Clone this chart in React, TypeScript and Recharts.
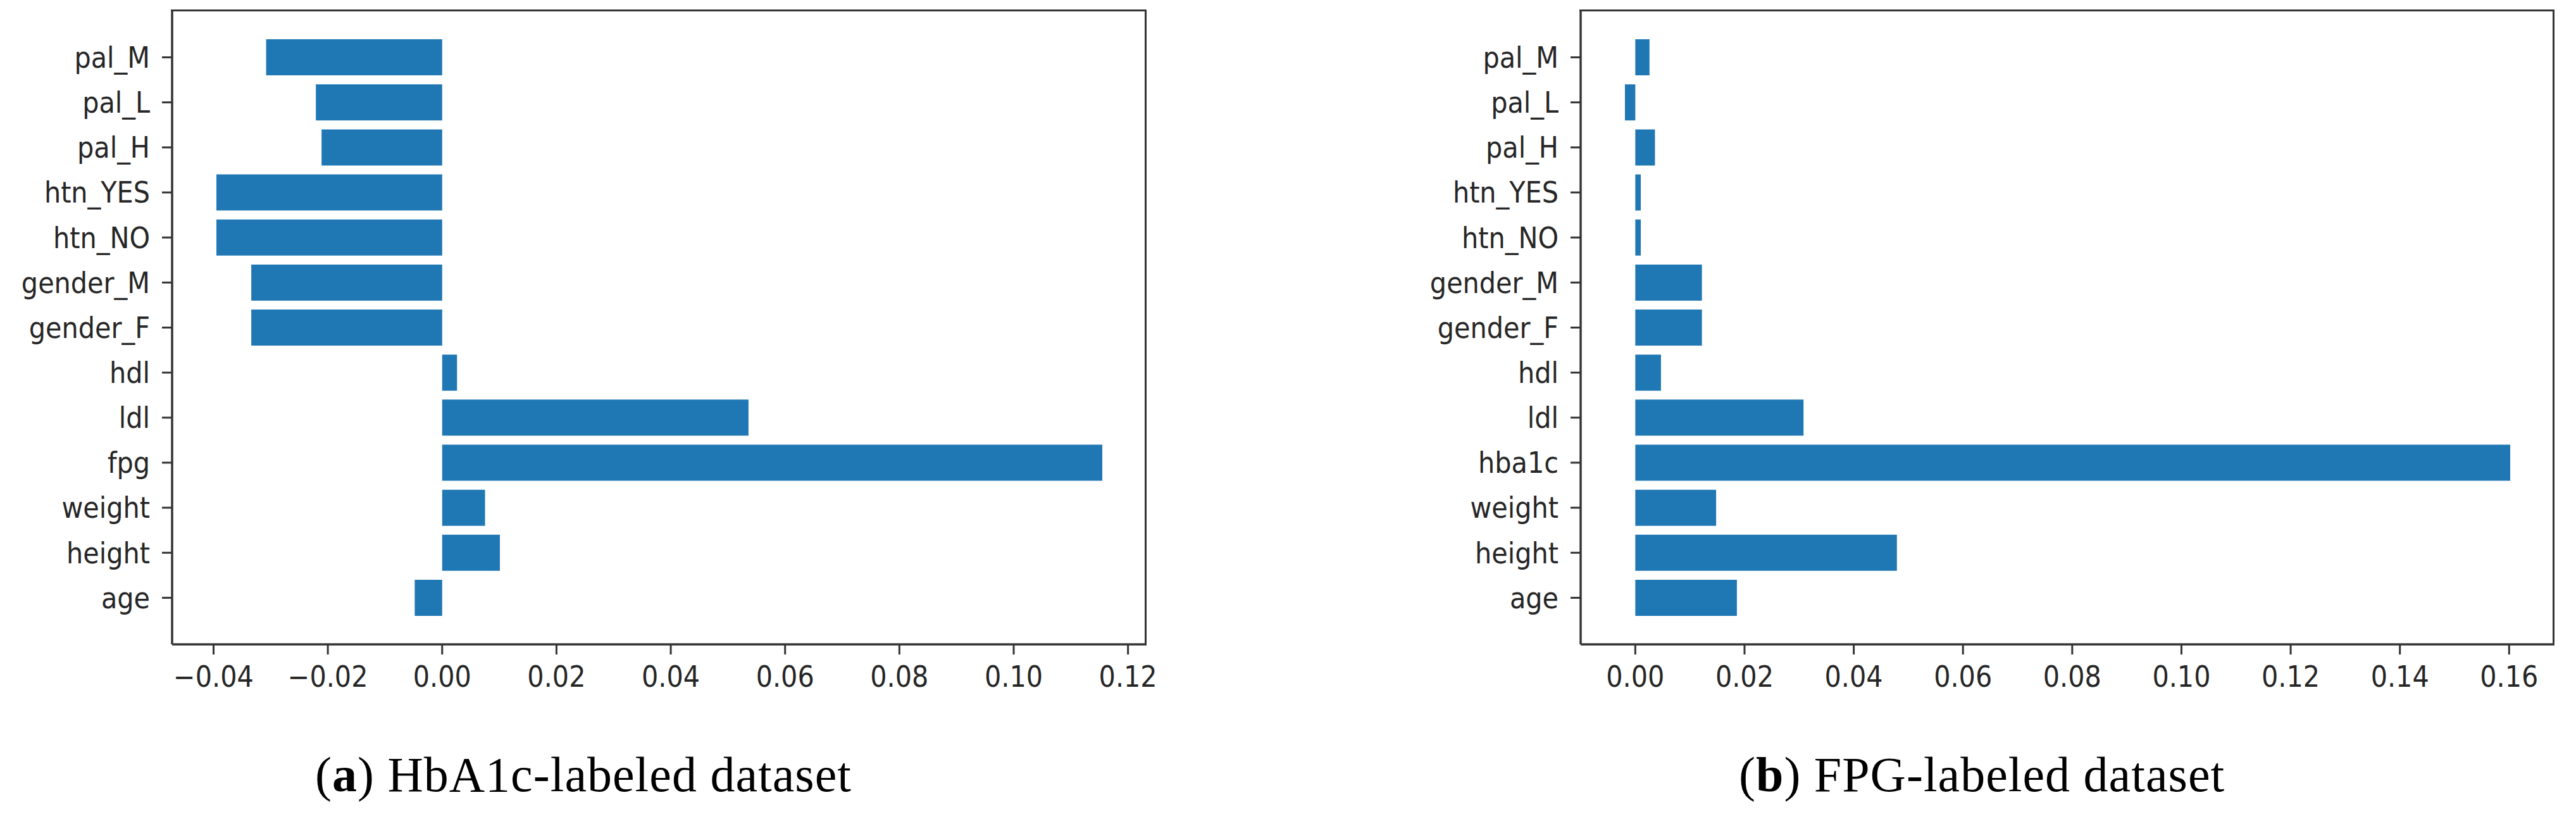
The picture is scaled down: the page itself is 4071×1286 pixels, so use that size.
import { BarChart, Bar, XAxis, YAxis } from 'recharts';

const categoriesA = ['pal_M', 'pal_L', 'pal_H', 'htn_YES', 'htn_NO', 'gender_M', 'gender_F', 'hdl', 'ldl', 'fpg', 'weight', 'height', 'age'];
const valuesA = [-0.0308, -0.0221, -0.0211, -0.0395, -0.0395, -0.0334, -0.0334, 0.0026, 0.0536, 0.1155, 0.0075, 0.0101, -0.0048];
const ticksA = [-0.04, -0.02, 0, 0.02, 0.04, 0.06, 0.08, 0.1, 0.12];

const categoriesB = ['pal_M', 'pal_L', 'pal_H', 'htn_YES', 'htn_NO', 'gender_M', 'gender_F', 'hdl', 'ldl', 'hba1c', 'weight', 'height', 'age'];
const valuesB = [0.0026, -0.0019, 0.0036, 0.001, 0.001, 0.0122, 0.0122, 0.0047, 0.0308, 0.1602, 0.0148, 0.0479, 0.0186];
const ticksB = [0, 0.02, 0.04, 0.06, 0.08, 0.1, 0.12, 0.14, 0.16];

const BAR = '#1f77b4';
const AXIS = '#333333';
const LABEL_FONT = "'DejaVu Sans Condensed', 'DejaVu Sans', sans-serif";
const CHART_H = 1100;
const MARGIN_TOP = 17;
const MARGIN_BOTTOM = 12;
const XAXIS_H = 70;
const SPINE = 3.5;

// matplotlib-style 5% margins around the data (bars start at 0)
function paddedDomain(values: number[]): [number, number] {
  const lo = Math.min(0, ...values);
  const hi = Math.max(0, ...values);
  const m = (hi - lo) * 0.05;
  return [lo - m, hi + m];
}

const fmt = (v: number) => (v < 0 ? '\u2212' + Math.abs(v).toFixed(2) : v.toFixed(2));

interface PanelProps {
  categories: string[];
  values: number[];
  ticks: number[];
  width: number;
  yAxisWidth: number;
  rightMargin: number;
}

function Panel({ categories, values, ticks, width, yAxisWidth, rightMargin }: PanelProps) {
  const data = categories.map((name, i) => ({ name, value: values[i] }));
  const domain = paddedDomain(values);
  const tickStyle = { fontSize: 46, fill: '#262626', fontFamily: LABEL_FONT };
  const plotW = width - yAxisWidth - rightMargin;
  const plotH = CHART_H - MARGIN_TOP - MARGIN_BOTTOM - XAXIS_H;
  return (
    <div style={{ position: 'relative', width, height: CHART_H }}>
      <BarChart
        width={width}
        height={CHART_H}
        data={data}
        layout="vertical"
        barCategoryGap="10%"
        margin={{ top: MARGIN_TOP, right: rightMargin, left: 0, bottom: MARGIN_BOTTOM }}
      >
        <XAxis
          type="number"
          domain={domain}
          ticks={ticks}
          allowDataOverflow
          tickFormatter={fmt}
          tick={tickStyle}
          tickSize={16}
          tickMargin={18}
          height={XAXIS_H}
          axisLine={{ stroke: AXIS, strokeWidth: SPINE }}
          tickLine={{ stroke: AXIS, strokeWidth: 3 }}
        />
        <YAxis
          type="category"
          dataKey="name"
          width={yAxisWidth}
          padding={{ top: 38, bottom: 38 }}
          interval={0}
          tick={tickStyle}
          tickSize={16}
          tickMargin={19}
          axisLine={{ stroke: AXIS, strokeWidth: SPINE }}
          tickLine={{ stroke: AXIS, strokeWidth: 3 }}
        />
        <Bar dataKey="value" fill={BAR} isAnimationActive={false} />
      </BarChart>
      {/* top and right spines of the axes box */}
      <div
        style={{
          position: 'absolute',
          left: yAxisWidth - SPINE / 2,
          top: MARGIN_TOP - SPINE / 2,
          width: plotW + SPINE / 2,
          height: plotH + SPINE / 2,
          borderTop: `${SPINE}px solid ${AXIS}`,
          borderRight: `${SPINE}px solid ${AXIS}`,
          boxSizing: 'border-box',
          pointerEvents: 'none',
        }}
      />
    </div>
  );
}

const captionStyle: React.CSSProperties = {
  position: 'absolute',
  top: 1179,
  fontFamily: "'Liberation Serif', 'Times New Roman', serif",
  fontSize: 78,
  letterSpacing: 1,
  color: '#000',
  whiteSpace: 'nowrap',
};

export default function App() {
  return (
    <div style={{ position: 'relative', width: 4071, height: 1286, background: '#fff', overflow: 'hidden' }}>
      <style>{'body{margin:0;background:#fff}'}</style>
      <div style={{ position: 'absolute', left: 0, top: 0 }}>
        <Panel categories={categoriesA} values={valuesA} ticks={ticksA} width={1830} yAxisWidth={272} rightMargin={18} />
      </div>
      <div style={{ position: 'absolute', left: 2200, top: 0 }}>
        <Panel categories={categoriesB} values={valuesB} ticks={ticksB} width={1860} yAxisWidth={298} rightMargin={23} />
      </div>
      <div style={{ ...captionStyle, left: 498 }}>
        (<b>a</b>) HbA1c-labeled dataset
      </div>
      <div style={{ ...captionStyle, left: 2748 }}>
        (<b>b</b>) FPG-labeled dataset
      </div>
    </div>
  );
}
